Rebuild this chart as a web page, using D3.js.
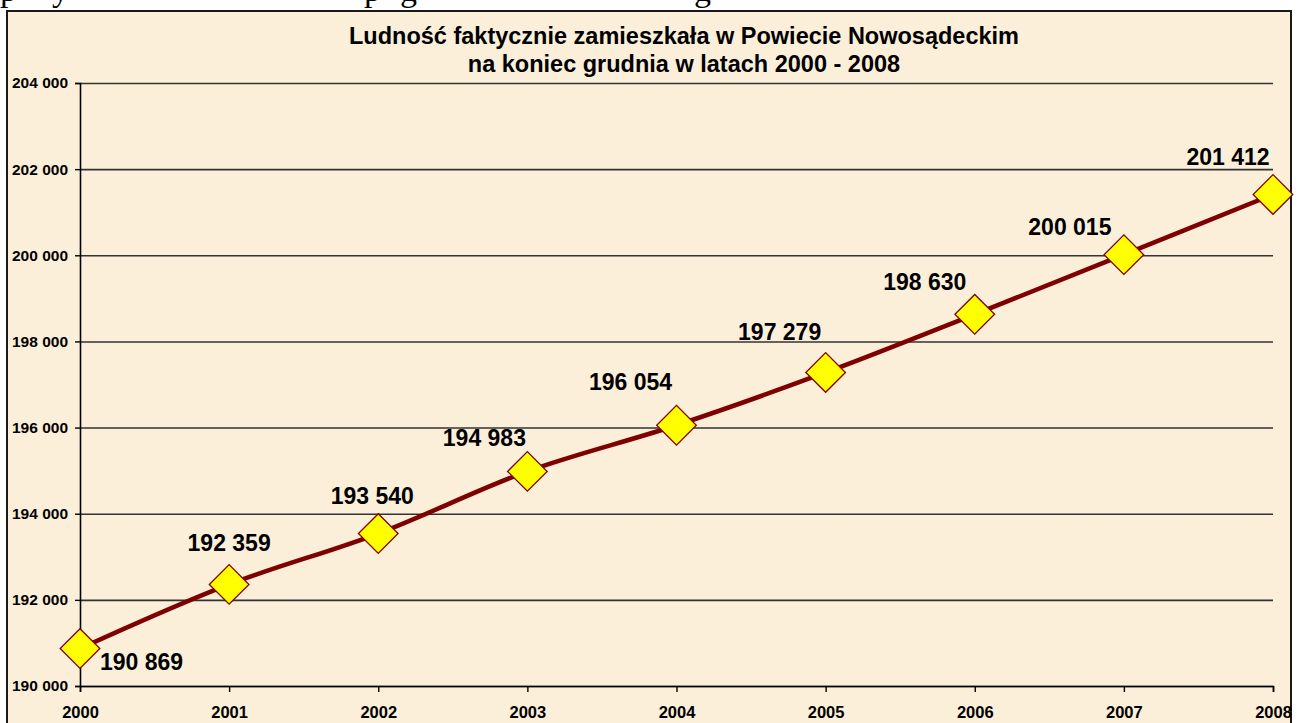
<!DOCTYPE html>
<html>
<head>
<meta charset="utf-8">
<script src="https://cdn.jsdelivr.net/npm/d3@7"></script>
<style>
  html, body { margin: 0; padding: 0; background: #fff; overflow: hidden; }
  text { font-family: Arial, "Liberation Sans", sans-serif; }
</style>
</head>
<body>
<div id="chart"></div>
<script>
// data
const years = ['2000', '2001', '2002', '2003', '2004', '2005', '2006', '2007', '2008'];
const population = [190869, 192359, 193540, 194983, 196054, 197279, 198630, 200015, 201412];
const yTicks = [190000, 192000, 194000, 196000, 198000, 200000, 202000, 204000];
const titleLines = ['Ludność faktycznie zamieszkała w Powiecie Nowosądeckim',
                    'na koniec grudnia w latach 2000 - 2008'];

// label placement relative to the marker (layout only)
const labelOffsets = [[20, 21, 'start'], [0, -33], [-6, -30], [-43, -25], [-46, -35],
                      [-46, -32], [-50, -24], [-54, -20], [-45, -29]];

const width = 1299, height = 723;
const svg = d3.select('#chart').append('svg')
    .attr('width', width)
    .attr('height', height);

// paper texture for the chart area
const defs = svg.append('defs');
const tex = defs.append('filter').attr('id', 'paper')
    .attr('x', 0).attr('y', 0).attr('width', 1).attr('height', 1);
tex.append('feTurbulence')
    .attr('type', 'fractalNoise')
    .attr('baseFrequency', 0.35)
    .attr('numOctaves', 2)
    .attr('seed', 3)
    .attr('result', 'noise');
tex.append('feColorMatrix')
    .attr('in', 'noise')
    .attr('type', 'matrix')
    .attr('values', '0 0 0 0 0.93  0 0 0 0 0.86  0 0 0 0 0.74  0 0 0 0.35 -0.08')
    .attr('result', 'tint');
tex.append('feComposite').attr('in', 'tint').attr('in2', 'SourceGraphic').attr('operator', 'in');

// descenders of the line of text above the chart (cut off in the scan)
const topBits = [['p', 0], ['y', 52], ['p', 364], ['g', 400], ['g', 694]];
svg.selectAll('.topbit')
    .data(topBits)
    .enter()
    .append('text')
    .attr('x', d => d[1])
    .attr('y', 1)
    .style('font-family', '"Liberation Serif", "Times New Roman", serif')
    .style('font-size', '34px')
    .text(d => d[0]);

// frame
svg.append('rect')
    .attr('x', 7)
    .attr('y', 11)
    .attr('width', 1284)
    .attr('height', 730)
    .attr('fill', '#fcefd9')
    .attr('stroke', '#1a1a1a')
    .attr('stroke-width', 2);
svg.append('rect')
    .attr('x', 8)
    .attr('y', 12)
    .attr('width', 1282)
    .attr('height', 728)
    .attr('fill', '#fcefd9')
    .attr('filter', 'url(#paper)');

const margin = { top: 83, left: 80 };
const plotW = 1273 - margin.left;
const plotH = 686 - margin.top;

const chart = svg.append('g')
    .attr('transform', `translate(${margin.left},${margin.top})`);

const xScale = d3.scalePoint()
    .domain(years)
    .range([0, plotW]);
const yScale = d3.scaleLinear()
    .domain([190000, 204000])
    .range([plotH, 0]);

const fmt = v => d3.format(',')(v).replace(/,/g, ' ');

// gridlines
chart.append('g')
    .classed('gridline', true)
    .call(d3.axisLeft(yScale).tickValues(yTicks).tickSize(-plotW).tickFormat(''))
    .call(g => g.select('.domain').remove())
    .call(g => g.selectAll('line').attr('stroke', '#333').attr('stroke-width', 1.6));

// y axis
const yAxis = chart.append('g')
    .classed('y axis', true)
    .call(d3.axisLeft(yScale).tickValues(yTicks).tickSize(5).tickPadding(7).tickFormat(fmt));
yAxis.select('.domain').attr('stroke', '#000').attr('stroke-width', 1.6);
yAxis.selectAll('line').attr('stroke', '#000').attr('stroke-width', 1.4);
yAxis.selectAll('text')
    .attr('fill', '#000')
    .style('font-size', '15.5px')
    .style('font-weight', 'bold')
    .style('font-family', 'Arial, "Liberation Sans", sans-serif');

// x axis
const xAxis = chart.append('g')
    .classed('x axis', true)
    .attr('transform', `translate(0,${plotH})`)
    .call(d3.axisBottom(xScale).tickSize(6).tickPadding(14));
xAxis.select('.domain').attr('stroke', '#000').attr('stroke-width', 1.6);
xAxis.selectAll('line').attr('stroke', '#000').attr('stroke-width', 1.4);
xAxis.selectAll('text')
    .attr('fill', '#000')
    .style('font-size', '16.5px')
    .style('font-weight', 'bold')
    .style('font-family', 'Arial, "Liberation Sans", sans-serif');

// line
const line = d3.line()
    .x((d, i) => xScale(years[i]))
    .y(d => yScale(d))
    .curve(d3.curveCatmullRom);

chart.append('path')
    .datum(population)
    .attr('d', line)
    .attr('fill', 'none')
    .attr('stroke', '#7f0000')
    .attr('stroke-width', 4.5);

// markers
const diamond = d3.symbol().type(d3.symbolSquare).size(28 * 28);
chart.selectAll('.marker')
    .data(population)
    .enter()
    .append('path')
    .classed('marker', true)
    .attr('d', diamond)
    .attr('transform', (d, i) => `translate(${xScale(years[i])},${yScale(d)}) rotate(45)`)
    .attr('fill', '#ffff00')
    .attr('stroke', '#800000')
    .attr('stroke-width', 1.3);

// data labels
chart.selectAll('.bar-label')
    .data(population)
    .enter()
    .append('text')
    .classed('bar-label', true)
    .attr('x', (d, i) => xScale(years[i]) + labelOffsets[i][0])
    .attr('y', (d, i) => yScale(d) + labelOffsets[i][1])
    .attr('text-anchor', (d, i) => labelOffsets[i][2] || 'middle')
    .style('font-size', '23px')
    .style('font-weight', 'bold')
    .text(fmt);

// title
svg.append('g')
    .selectAll('text')
    .data(titleLines)
    .enter()
    .append('text')
    .attr('x', 684)
    .attr('y', (d, i) => 44 + i * 28)
    .attr('text-anchor', 'middle')
    .style('font-size', '23.5px')
    .style('font-weight', 'bold')
    .text(d => d);
</script>
</body>
</html>
